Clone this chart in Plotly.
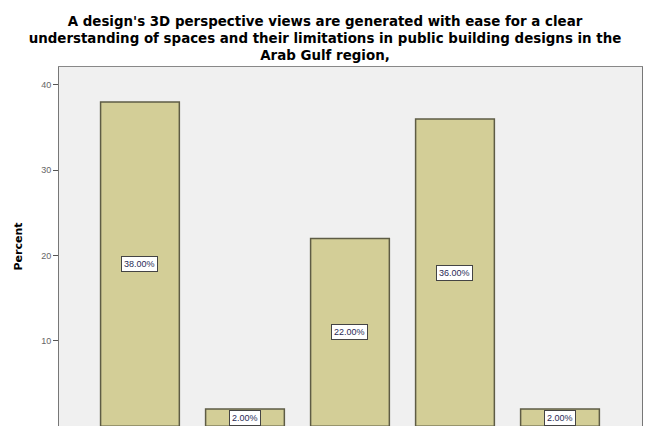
import plotly.graph_objects as go

# Response categories and the share of respondents in each (percent)
categories = ["Strongly Agree", "Agree", "Neutral", "Disagree", "Strongly Disagree"]
percent = [38.0, 2.0, 22.0, 36.0, 2.0]
y_ticks = [0, 10, 20, 30, 40]

title_text = ("A design's 3D perspective views are generated with ease for a clear<br>"
              "understanding of spaces and their limitations in public building designs in the<br>"
              "Arab Gulf region,")

fig = go.Figure()
fig.add_trace(go.Bar(
    x=list(range(len(categories))),
    y=percent,
    width=0.75,
    marker=dict(color="#D3CE97", line=dict(color="#5E5C45", width=1.5)),
    hoverinfo="skip",
))

# Boxed value labels at the middle of each bar
for i, v in enumerate(percent):
    fig.add_annotation(
        x=i, y=v / 2, text=f"{v:.2f}%", showarrow=False,
        font=dict(family="Liberation Sans, Arial, sans-serif", size=9, color="#2A2A55"),
        bgcolor="white", bordercolor="#444444", borderwidth=1, borderpad=2,
    )

fig.update_layout(
    width=650, height=426,
    margin=dict(l=59, r=8, t=67, b=0),
    paper_bgcolor="white",
    plot_bgcolor="#F0F0F0",
    showlegend=False,
    title=dict(
        text=title_text, x=0.5, xanchor="center",
        yref="container", y=0.940, yanchor="middle",
        font=dict(family="DejaVu Sans, Verdana, sans-serif", size=13.4, color="black",
                  weight="bold"),
    ),
    xaxis=dict(
        range=[-0.771, 4.781],
        tickvals=list(range(len(categories))), ticktext=categories,
        showticklabels=False,
        showgrid=False, zeroline=False, showline=True, linecolor="#888888",
        mirror=True, automargin=False,
    ),
    yaxis=dict(
        range=[0.02, 42.1],
        tickvals=y_ticks, ticks="outside", ticklen=5, tickcolor="#555555",
        tickfont=dict(family="Liberation Sans, Arial, sans-serif", size=9, color="#666666"),
        showgrid=False, zeroline=False, showline=True, linecolor="#777777", linewidth=1,
        mirror=True, automargin=False,
        title=dict(text="<b>Percent</b>", standoff=16,
                   font=dict(family="DejaVu Sans, Verdana, sans-serif", size=11, color="black")),
    ),
)

fig.write_html("out.html")
